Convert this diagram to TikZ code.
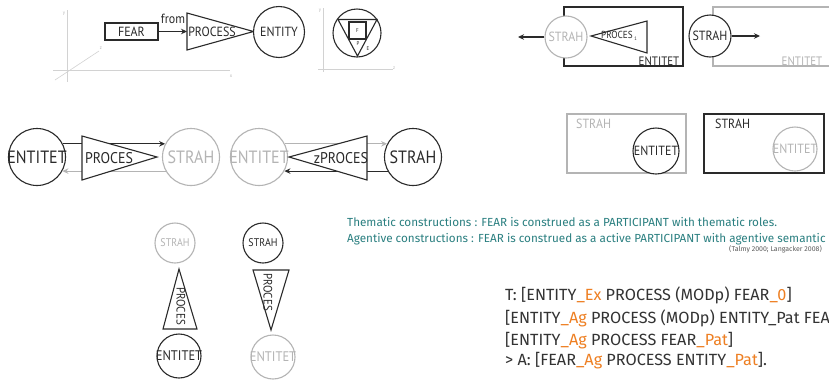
\documentclass[tikz,border=0pt]{standalone}
\usepackage{fontspec}
\setmainfont{Fira Sans}
\newfontfamily\labfont[FakeStretch=0.9]{PT Sans}
\usetikzlibrary{arrows.meta}
\definecolor{lg}{HTML}{B4B4B4}
\definecolor{dk}{HTML}{2A2A2A}
\definecolor{teal1}{HTML}{2A7F80}
\definecolor{org}{HTML}{EE7F22}
\definecolor{axc}{HTML}{D2D2D2}
\definecolor{txt}{HTML}{333333}
\newcommand\zw[1]{\makebox[0pt]{#1}}
\begin{document}
\begin{tikzpicture}[x=1pt,y=-1pt,
  dline/.style={draw=dk,line width=1.1pt},
  gline/.style={draw=lg,line width=1.1pt},
  darr/.style={dline,-{Stealth[length=6pt,width=5.5pt]}},
  garr/.style={gline,-{Stealth[length=6pt,width=5.5pt]}},
  dcirc/.style={circle,dline,fill=white,inner sep=0pt,text=dk},
  gcirc/.style={circle,gline,fill=white,inner sep=0pt,text=lg},
  lab/.style={font=\labfont\fontsize{#1}{#1}\selectfont,inner sep=0pt},
  tri/.style={dline,fill=white,line join=miter},
  axis/.style={draw=axc,line width=0.6pt},
  axl/.style={font=\labfont\fontsize{5}{5}\selectfont,text=lg,inner sep=0pt},
  small/.style={font=\labfont\fontsize{5.5}{5.5}\selectfont,text=dk,inner sep=0pt},
  body/.style={anchor=base west,inner sep=0pt,text=txt,font=\fontsize{16.2}{18}\selectfont},
  note/.style={anchor=base west,inner sep=0pt,text=teal1,font=\fontsize{11.7}{13}\selectfont}
]
\clip (0,0) rectangle (829,381);
\fill[white] (0,0) rectangle (829,381);

% ---- panel 1: axes
\draw[axis] (53,70) -- (230,70);
\draw[axis] (67,10) -- (67,82);
\draw[axis] (55,80) -- (99,51);
\node[axl] (ly1) at (64,14) {y};
\node[axl] (lx1) at (231,76) {x};
\node[axl] (lz1) at (101,48) {z};
% FEAR -> PROCESS -> ENTITY
\node[rectangle,dline,minimum width=53,minimum height=17,lab=13.3,text=dk] (fear) at (131.5,31.5) {\zw{FEAR}};
\coordinate (t1a) at (187,13);
\coordinate (t1b) at (187,50);
\coordinate (t1c) at (253.5,31.5);
\coordinate (t1m) at (187,31.5);
\draw[tri] (t1a) -- (t1c) -- (t1b) -- cycle;
\draw[darr] (fear.east) -- (t1m);
\node[lab=13.3,text=dk] (proc1) at (212,32) {PROCESS};
\node[lab=13.3,text=dk,anchor=south] (from) at (173,24) {from};
\node[dcirc,minimum size=51,lab=13.3] (ent1) at (279,32) {\zw{ENTITY}};

% ---- panel 2: nested
\draw[axis] (323,8) -- (323,72);
\draw[axis] (318,69) -- (393,69);
\node[axl] (ly2) at (320,11) {y};
\node[axl] (lz2) at (394,68) {z};
\node[dcirc,minimum size=48] (c2) at (357,33) {};
\coordinate (t2a) at (338,19.5);
\coordinate (t2b) at (377,19.5);
\coordinate (t2c) at (357.5,56);
\draw[tri] (t2a) -- (t2b) -- (t2c) -- cycle;
\draw[dline] (349,22) rectangle (366,39);
\node[small] (lf) at (357.5,30.5) {F};
\node[small] (lp) at (358,43.5) {P};
\node[small] (le) at (368,49) {E};

% ---- top right
\draw[dline] (564,7) rectangle (683,66);
\coordinate (t3a) at (591,36);
\coordinate (t3b) at (647,21);
\coordinate (t3c) at (647,53);
\draw[tri] (t3a) -- (t3b) -- (t3c) -- cycle;
\node[lab=10.2,text=dk] (proc3) at (619,36) {PROCES\,\raisebox{-1.5pt}{\fontsize{5}{5}\selectfont 1}};
\node[gcirc,minimum size=42,lab=13.3] (s3) at (566,37) {\zw{STRAH}};
\coordinate (a3) at (518,37);
\draw[darr] (s3.west) -- (a3);
\node[lab=12.2,text=dk] (e3) at (659,61) {ENTITET};

\draw[gline] (713,7) rectangle (840,66);
\node[dcirc,minimum size=42,lab=13.3] (s4) at (710,36) {\zw{STRAH}};
\coordinate (a4) at (760,36);
\draw[darr] (s4.east) -- (a4);
\node[lab=12.2,text=lg] (e4) at (802,61) {ENTITET};

% ---- middle left
\node[dcirc,minimum size=57,lab=17.8] (m1) at (37,157) {\zw{ENTITET}};
\node[gcirc,minimum size=57,lab=17.8] (m2) at (191,157) {\zw{STRAH}};
\draw[darr] (m1.27) -- (m2.153);
\draw[garr] (m2.209) -- (m1.331);
\coordinate (t4a) at (82,136);
\coordinate (t4b) at (82,180);
\coordinate (t4c) at (157,157);
\draw[tri] (t4a) -- (t4c) -- (t4b) -- cycle;
\node[lab=15.5,text=dk] (proc4) at (109,158) {PROCES};

\node[gcirc,minimum size=57,lab=17.8] (m3) at (259,157) {\zw{ENTITET}};
\node[dcirc,minimum size=57,lab=17.8] (m4) at (413,157) {\zw{STRAH}};
\draw[garr] (m3.27) -- (m4.153);
\draw[darr] (m4.209) -- (m3.331);
\coordinate (t5a) at (289,157);
\coordinate (t5b) at (367,136);
\coordinate (t5c) at (367,180);
\draw[tri] (t5a) -- (t5b) -- (t5c) -- cycle;
\node[lab=15.5,text=dk] (proc5) at (341,158) {zPROCES};

% ---- middle right
\draw[gline] (567,114) rectangle (686,173);
\node[lab=13.3,text=lg,anchor=west] (s5) at (576,124) {STRAH};
\node[dcirc,minimum size=46,lab=13.3] (e5) at (656,151) {\zw{ENTITET}};
\draw[dline] (704,114) rectangle (824,173);
\node[lab=13.3,text=dk,anchor=west] (s6) at (715,124) {STRAH};
\node[gcirc,minimum size=44,lab=13.3] (e6) at (795,149) {\zw{ENTITET}};

% ---- bottom vertical
\node[gcirc,minimum size=40,lab=11.1] (b1) at (175,243) {\zw{STRAH}};
\coordinate (t6a) at (179,269);
\coordinate (t6b) at (163,329);
\coordinate (t6c) at (197,329);
\draw[tri] (t6a) -- (t6b) -- (t6c) -- cycle;
\node[lab=12.2,text=dk,rotate=-90] (bp1) at (181,306) {PROCES};
\node[dcirc,minimum size=44,lab=13.9] (b2) at (179,356) {\zw{ENTITET}};

\node[dcirc,minimum size=40,lab=11.1] (b3) at (263,243) {\zw{STRAH}};
\coordinate (t7a) at (253,270);
\coordinate (t7b) at (289,270);
\coordinate (t7c) at (271,330);
\draw[tri] (t7a) -- (t7b) -- (t7c) -- cycle;
\node[lab=12.2,text=dk,rotate=-90] (bp2) at (268,292) {PROCES};
\node[gcirc,minimum size=44,lab=13.9] (b4) at (273,357) {\zw{ENTITET}};

% ---- texts
\node[note] (n1) at (347,226.5) {Thematic constructions : FEAR is construed as a PARTICIPANT with thematic roles.};
\node[note] (n2) at (347,242.3) {Agentive constructions : FEAR is construed as a active PARTICIPANT with agentive semantic};
\node[anchor=base east,inner sep=0pt,text=txt!80,font=\fontsize{7}{8}\selectfont] (cite) at (822,251.5) {(Talmy 2000; Langacker 2008)};

\node[body] (r1) at (505,300.7) {T: [ENTITY\textcolor{org}{\_Ex} PROCESS (MODp) FEAR\textcolor{org}{\_0}]};
\node[body] (r2) at (505,323) {[ENTITY\textcolor{org}{\_Ag} PROCESS (MODp) ENTITY\_Pat FEA};
\node[body] (r3) at (505,345) {[ENTITY\textcolor{org}{\_Ag} PROCESS FEAR\textcolor{org}{\_Pat}]};
\node[body] (r4) at (505,365) {> A: [FEAR\textcolor{org}{\_Ag} PROCESS ENTITY\textcolor{org}{\_Pat}].};
\end{tikzpicture}
\end{document}
